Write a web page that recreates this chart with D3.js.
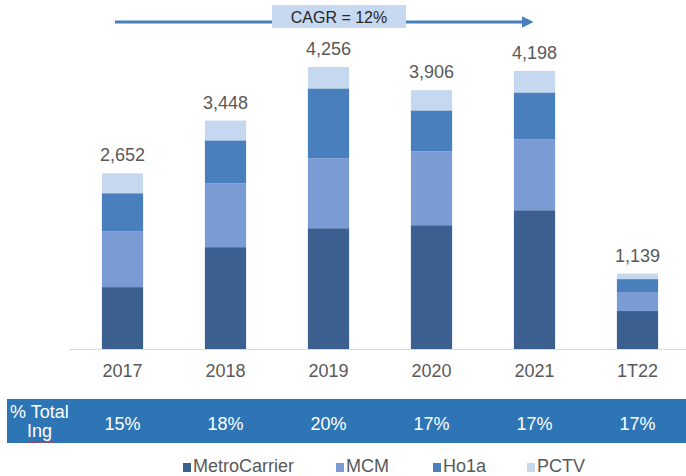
<!DOCTYPE html>
<html>
<head>
<meta charset="utf-8">
<script src="https://cdn.jsdelivr.net/npm/d3@7"></script>
<style>
  body { margin: 0; background: #fff; }
  svg { display: block; font-family: "Liberation Sans", Arial, sans-serif; }
</style>
</head>
<body>
<div id="chart"></div>
<script>
// Chart data
var years = ["2017", "2018", "2019", "2020", "2021", "1T22"];
var seriesNames = ["MetroCarrier", "MCM", "Ho1a", "PCTV"];
var metroCarrier = [934, 1537, 1823, 1868, 2094, 573];
var mcm = [844, 964, 1055, 1115, 1070, 286];
var ho1a = [573, 648, 1055, 618, 708, 196];
var pctv = [301, 299, 323, 305, 326, 84];
var totals = [2652, 3448, 4256, 3906, 4198, 1139];
var pctTotalIng = ["15%", "18%", "20%", "17%", "17%", "17%"];
var cagrLabel = "CAGR = 12%";

var colors = ["#3b5f8e", "#7b9bd4", "#4a7fbd", "#c6d8f0"];

var width = 686, height = 476;

var chart = d3.select("#chart").append("svg")
    .attr("width", width)
    .attr("height", height);

// Build rows for the stack
var rows = years.map(function(y, i) {
  return {
    year: y,
    MetroCarrier: metroCarrier[i],
    MCM: mcm[i],
    Ho1a: ho1a[i],
    PCTV: pctv[i]
  };
});

var stacked = d3.stack().keys(seriesNames)(rows);

// Scales
var x = d3.scaleBand()
    .domain(years)
    .range([71, 689])
    .paddingInner(0.6)
    .paddingOuter(0.3);

var y = d3.scaleLinear()
    .domain([0, 4256])
    .range([349, 67]);

// Bars
chart.append("g").selectAll("g")
    .data(stacked)
  .enter().append("g")
    .attr("fill", function(d, i) { return colors[i]; })
  .selectAll("rect")
    .data(function(d) { return d; })
  .enter().append("rect")
    .attr("x", function(d) { return x(d.data.year); })
    .attr("y", function(d) { return y(d[1]); })
    .attr("width", x.bandwidth())
    .attr("height", function(d) { return y(d[0]) - y(d[1]); });

// Baseline
chart.append("line")
    .attr("x1", 70).attr("x2", 686)
    .attr("y1", y(0) + 0.5).attr("y2", y(0) + 0.5)
    .attr("stroke", "#d9d9d9")
    .attr("stroke-width", 1);

// Category axis labels
var xAxis = d3.axisBottom(x).tickSize(0).tickPadding(15);
var axisG = chart.append("g")
    .attr("transform", "translate(0," + y(0) + ")")
    .call(xAxis);
axisG.select(".domain").remove();
axisG.selectAll("text")
    .attr("font-size", 18)
    .attr("font-family", "Liberation Sans, Arial, sans-serif")
    .attr("fill", "#595959");

// Total labels
chart.append("g").selectAll("text")
    .data(totals)
  .enter().append("text")
    .attr("x", function(d, i) { return x(years[i]) + x.bandwidth() / 2; })
    .attr("y", function(d) { return y(d) - 12; })
    .attr("text-anchor", "middle")
    .attr("font-size", 18)
    .attr("fill", "#595959")
    .text(function(d) { return d3.format(",")(d); });

// CAGR arrow
var defs = chart.append("defs");
defs.append("marker")
    .attr("id", "arrow")
    .attr("viewBox", "0 0 10 10")
    .attr("refX", 2).attr("refY", 5)
    .attr("markerWidth", 4).attr("markerHeight", 4)
    .attr("orient", "auto")
  .append("path")
    .attr("d", "M0,0 L10,5 L0,10 z")
    .attr("fill", "#4a7fbd");

chart.append("line")
    .attr("x1", 115).attr("x2", 524)
    .attr("y1", 22).attr("y2", 22)
    .attr("stroke", "#4a7fbd")
    .attr("stroke-width", 3)
    .attr("marker-end", "url(#arrow)");

chart.append("rect")
    .attr("x", 272).attr("y", 5)
    .attr("width", 134).attr("height", 23)
    .attr("fill", "#c6d9f1");

chart.append("text")
    .attr("x", 339).attr("y", 23)
    .attr("text-anchor", "middle")
    .attr("font-size", 16)
    .attr("fill", "#262626")
    .text(cagrLabel);

// % Total Ing band
chart.append("rect")
    .attr("x", 7).attr("y", 399)
    .attr("width", 679).attr("height", 44)
    .attr("fill", "#2e75b6");

chart.append("text")
    .attr("x", 10).attr("y", 418)
    .attr("font-size", 18)
    .attr("fill", "#fff")
    .text("% Total");

chart.append("text")
    .attr("x", 27).attr("y", 437)
    .attr("font-size", 18)
    .attr("fill", "#fff")
    .text("Ing");

// spell-check squiggle under "Ing"
var squiggle = d3.range(0, 15).map(function(i) {
  return [27 + i * 2, 441 + (i % 2 === 0 ? 0 : 2)];
});
chart.append("path")
    .attr("d", d3.line()(squiggle))
    .attr("fill", "none")
    .attr("stroke", "#e03030")
    .attr("stroke-width", 1);

chart.append("g").selectAll("text")
    .data(pctTotalIng)
  .enter().append("text")
    .attr("x", function(d, i) { return x(years[i]) + x.bandwidth() / 2; })
    .attr("y", 430)
    .attr("text-anchor", "middle")
    .attr("font-size", 18)
    .attr("fill", "#fff")
    .text(function(d) { return d; });

// Legend
var legendX = [183, 336, 433, 527];
var legend = chart.append("g").selectAll("g")
    .data(seriesNames)
  .enter().append("g")
    .attr("transform", function(d, i) { return "translate(" + legendX[i] + ",0)"; });

legend.append("rect")
    .attr("x", 0).attr("y", 463)
    .attr("width", 8).attr("height", 9)
    .attr("fill", function(d, i) { return colors[i]; });

legend.append("text")
    .attr("x", 10).attr("y", 472)
    .attr("font-size", 18)
    .attr("fill", "#595959")
    .text(function(d) { return d; });
</script>
</body>
</html>
